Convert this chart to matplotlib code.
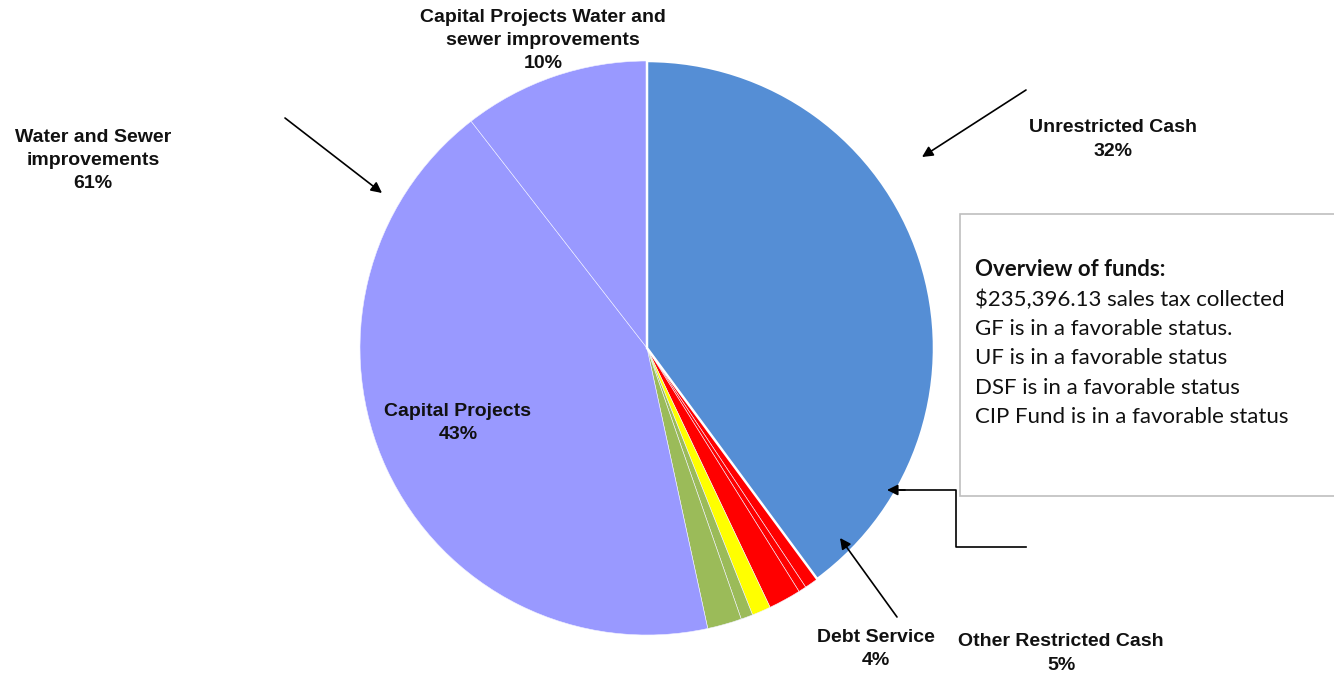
import matplotlib.pyplot as plt

W, H = 1334, 674

# slice shares (%), clockwise from 12 o'clock
slice_names = ['Unrestricted Cash', 'Other Restricted 1', 'Other Restricted 2', 'Other Restricted 3',
               'Debt Service', 'Debt Service 2', 'Debt Service 3',
               'Capital Projects', 'Capital Projects Water and sewer improvements']
slice_vals = [39.9, 0.78, 0.44, 1.83, 1.06, 0.67, 1.93, 42.9, 10.5]
slice_colors = ['#558ED5', '#FF0000', '#FF0000', '#FF0000', '#FFFF00',
                '#9BBB59', '#9BBB59', '#9999FF', '#9999FF']

labels = [
    (['Capital Projects Water and', 'sewer improvements', '10%'], 543, 17),
    (['Water and Sewer', 'improvements', '61%'], 93, 137),
    (['Unrestricted Cash', '32%'], 1113, 128),
    (['Capital Projects', '43%'], 458, 411),
    (['Debt Service', '4%'], 876, 637),
    (['Other Restricted Cash', '5%'], 1061, 642),
]

box_lines = ['Overview of funds:', '$235,396.13 sales tax collected',
             'GF is in a favorable status.', 'UF is in a favorable status',
             'DSF is in a favorable status', 'CIP Fund is in a favorable status']


def Y(py):
    return H - py


fig = plt.figure(figsize=(W / 100, H / 100), dpi=100)
ax = fig.add_axes([0, 0, 1, 1])

wedges, _ = ax.pie(slice_vals, colors=slice_colors, startangle=90, counterclock=False,
                   center=(647, Y(348)), radius=287,
                   wedgeprops=dict(edgecolor='#F2F2FF', linewidth=0.4))
wedges[0].set_edgecolor('white')
wedges[0].set_linewidth(1.8)
wedges[0].set_zorder(3)

# pie() sets its own limits, so fix the pixel frame afterwards
ax.set_xlim(0, W)
ax.set_ylim(0, H)
ax.set_aspect('equal')
ax.axis('off')

# labels
for lines, cx, top in labels:
    for i, s in enumerate(lines):
        ax.text(cx, Y(top + i * 23.5), s, ha='center', va='center', fontsize=14,
                fontweight='bold', family='Liberation Sans', color='#111111')

# overview box
ax.add_patch(plt.Rectangle((960, Y(496)), 400, 282, facecolor='white',
                           edgecolor='#BFBFBF', linewidth=1.2, zorder=1, clip_on=False))
for i, s in enumerate(box_lines):
    ax.text(975, Y(270 + i * 29.4), s, ha='left', va='center', fontsize=16,
            family='Lato', fontweight='bold' if i == 0 else 'normal', color='#111111')

arrow = dict(arrowstyle='-|>', color='black', lw=1.2, mutation_scale=16, shrinkA=0, shrinkB=0)
ax.annotate('', xy=(922, Y(157)), xytext=(1026, Y(90)), arrowprops=arrow)
ax.annotate('', xy=(382, Y(193)), xytext=(285, Y(118)), arrowprops=arrow)
ax.annotate('', xy=(840, Y(538)), xytext=(897, Y(617)), arrowprops=arrow)
ax.plot([1026, 956, 956, 900], [Y(547), Y(547), Y(490), Y(490)], color='black', lw=1.2)
ax.annotate('', xy=(887, Y(490)), xytext=(905, Y(490)), arrowprops=arrow)

fig.savefig('out.png', dpi=100, facecolor='white')
